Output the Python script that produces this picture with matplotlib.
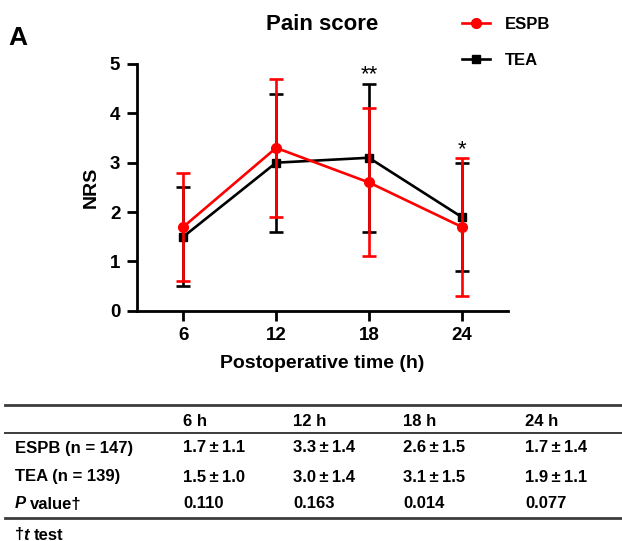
import matplotlib.pyplot as plt
from matplotlib.lines import Line2D

plt.rcParams['font.family'] = ['Liberation Sans', 'DejaVu Sans']
plt.rcParams['font.weight'] = 'bold'

times = [6, 12, 18, 24]
espb_mean = [1.7, 3.3, 2.6, 1.7]
espb_sd = [1.1, 1.4, 1.5, 1.4]
tea_mean = [1.5, 3.0, 3.1, 1.9]
tea_sd = [1.0, 1.4, 1.5, 1.1]
p_values = ["0.110", "0.163", "0.014", "0.077"]
col_heads = ["6 h", "12 h", "18 h", "24 h"]
row_heads = ["ESPB (n = 147)", "TEA (n = 139)"]
star_x = [18, 24]
star_txt = ["**", "*"]
star_y = [4.67, 3.15]

W, H = 622, 541
fig = plt.figure(figsize=(W / 100, H / 100), dpi=100)
ax = fig.add_axes([137 / W, 1 - 310.7 / H, (508 - 137) / W, (310.7 - 64) / H])

red = '#ff0000'
lw = 1.9
ax.errorbar(times, tea_mean, yerr=tea_sd, color='black', lw=lw, marker='s', ms=6,
            capsize=5, capthick=lw, elinewidth=lw, zorder=3)
ax.errorbar(times, espb_mean, yerr=espb_sd, color=red, lw=lw, marker='o', ms=7,
            capsize=5, capthick=lw, elinewidth=lw, zorder=4)

for x, s, y in zip(star_x, star_txt, star_y):
    ax.text(x, y, s, ha='center', va='baseline', fontsize=16, fontweight='normal')

ax.set_xlim(3, 27)
ax.set_ylim(0, 5)
ax.set_xticks(times)
ax.set_yticks(range(6))
ax.spines['top'].set_visible(False)
ax.spines['right'].set_visible(False)
for sp in ['left', 'bottom']:
    ax.spines[sp].set_linewidth(2)
ax.tick_params(width=2, length=7, labelsize=13.5, pad=5)
for lab in ax.get_xticklabels() + ax.get_yticklabels():
    lab.set_fontweight('bold')
ax.set_ylabel('NRS', fontsize=14, fontweight='bold', labelpad=7)
ax.set_xlabel('Postoperative time (h)', fontsize=14, fontweight='bold', labelpad=8)

fig.text(322 / W, 1 - 25 / H, 'Pain score', ha='center', va='center', fontsize=16, fontweight='bold')
fig.text(8 / W, 1 - 38 / H, 'A', ha='left', va='center', fontsize=19, fontweight='bold')

handles = [Line2D([], [], color=red, lw=lw, marker='o', ms=7),
           Line2D([], [], color='black', lw=lw, marker='s', ms=6)]
leg = fig.legend(handles, ['ESPB', 'TEA'], loc='upper left', bbox_to_anchor=(462 / W, 1 - 17 / H),
                 frameon=False, fontsize=12, handlelength=1.7, labelspacing=1.25,
                 handletextpad=0.9, borderpad=0, borderaxespad=0)
for t in leg.get_texts():
    t.set_fontweight('bold')

# table below the chart
def fy(y):
    return 1 - y / H

col_x = [183, 293, 403, 525]
for y, w in [(405, 2.0), (433, 1.4), (518, 2.0)]:
    fig.add_artist(Line2D([5 / W, 1], [fy(y), fy(y)], color='#3c3c3c', lw=w))

fs = 12
for x, c in zip(col_x, col_heads):
    fig.text(x / W, fy(421), c, ha='left', va='center', fontsize=fs, fontweight='bold')

rows_y = [448, 477]
for y, name, m, s in zip(rows_y, row_heads, [espb_mean, tea_mean], [espb_sd, tea_sd]):
    fig.text(15 / W, fy(y), name, ha='left', va='center', fontsize=fs, fontweight='bold')
    for x, mm, ss in zip(col_x, m, s):
        fig.text(x / W, fy(y), f"{mm:.1f}\u2009\u00b1\u2009{ss:.1f}", ha='left', va='center',
                 fontsize=fs, fontweight='bold')

fig.text(15 / W, fy(504), 'P', ha='left', va='center', fontsize=fs, fontweight='bold', style='italic')
fig.text(30 / W, fy(504), 'value\u2020', ha='left', va='center', fontsize=fs, fontweight='bold')
for x, p in zip(col_x, p_values):
    fig.text(x / W, fy(504), p, ha='left', va='center', fontsize=fs, fontweight='bold')

fig.text(15 / W, fy(535), '\u2020', ha='left', va='center', fontsize=fs, fontweight='bold')
fig.text(23 / W, fy(535), 't', ha='left', va='center', fontsize=fs, fontweight='bold', style='italic')
fig.text(34 / W, fy(535), 'test', ha='left', va='center', fontsize=fs, fontweight='bold')

fig.savefig('out.png', dpi=100)
